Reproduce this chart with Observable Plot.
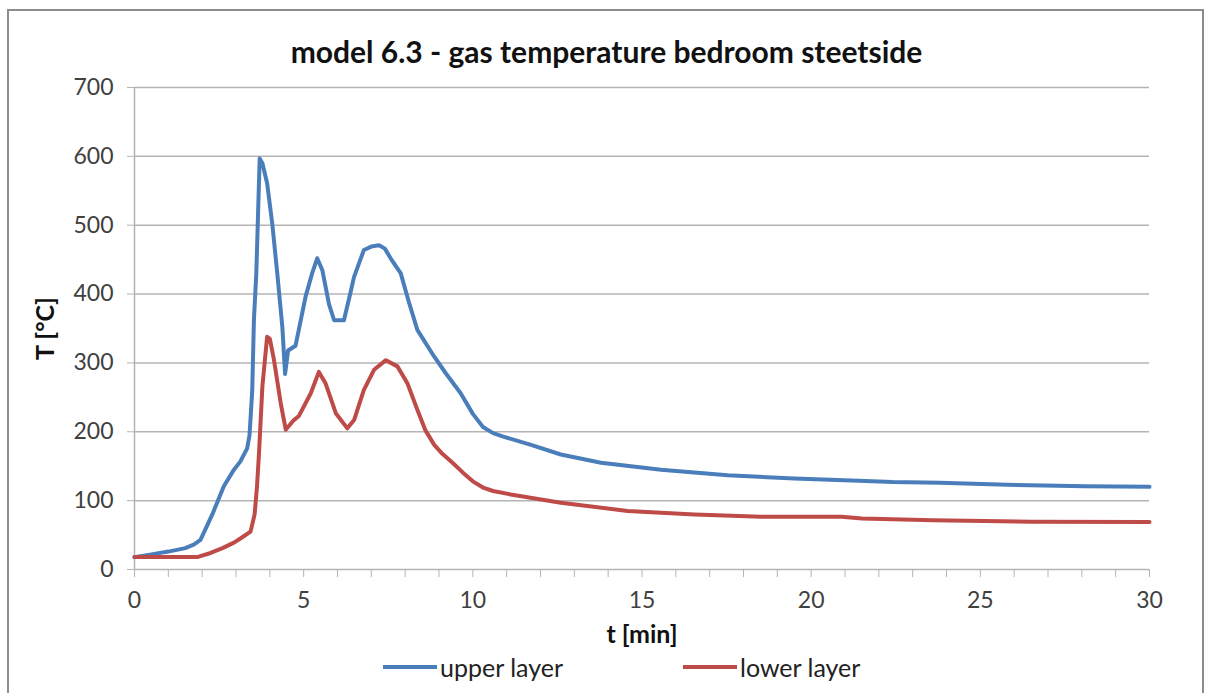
<!DOCTYPE html>
<html>
<head>
<meta charset="utf-8">
<script src="https://cdn.jsdelivr.net/npm/d3@7"></script>
<script src="https://cdn.jsdelivr.net/npm/@observablehq/plot@0.6"></script>
<style>
  html, body { margin: 0; padding: 0; background: #fff; overflow: hidden; }
  #wrap { position: relative; width: 1213px; height: 693px; font-family: Lato, "Open Sans", sans-serif; }
  #frame { position: absolute; left: 7px; top: 9px; width: 1197px; height: 700px; border: 2px solid #8c8c8c; box-sizing: border-box; }
  #title { position: absolute; left: 0; width: 1213px; top: 33px; text-align: center; font-weight: bold; font-size: 30px; color: #111; line-height: 36px; }
  #chart { position: absolute; left: 0; top: 0; }
  .leg { position: absolute; top: 651px; font-size: 25px; line-height: 32px; color: #222; display: flex; align-items: center; }
  .sw { display: inline-block; width: 54px; height: 4px; margin-right: 3px; }
</style>
</head>
<body>
<div id="wrap">
  <div id="frame"></div>
  <div id="chart"></div>
  <div id="title"></div>
  <div id="legend"></div>
</div>
<script>
const title = "model 6.3 - gas temperature bedroom steetside";
const xLabel = "t [min]";
const yLabel = "T [°C]";
const seriesNames = ["upper layer", "lower layer"];
const seriesColors = ["#4a7ebb", "#be4b48"];

const tUpper = [0, 0.5, 1.0, 1.5, 1.75, 1.95, 2.3, 2.64, 2.94, 3.13, 3.33, 3.40, 3.48, 3.53, 3.60, 3.70, 3.78, 3.92, 4.07, 4.22, 4.37, 4.45, 4.54, 4.76, 5.06, 5.25, 5.40, 5.55, 5.75, 5.90, 6.19, 6.35, 6.49, 6.78, 7.0, 7.23, 7.4, 7.57, 7.87, 8.1, 8.36, 8.86, 9.2, 9.64, 10.0, 10.3, 10.6, 10.9, 11.72, 12.6, 13.79, 15.56, 17.53, 19.5, 21.4, 22.4, 23.8, 25.8, 28.1, 30];
const vUpper = [18, 22, 26, 31, 36, 43, 80, 121, 145, 157, 176, 195, 260, 363, 430, 597, 590, 561, 503, 430, 352, 284, 318, 325, 397, 430, 452, 435, 385, 362, 362, 395, 425, 464, 469, 471, 466, 452, 430, 390, 348, 309, 285, 256, 226, 207, 198, 193, 181, 167, 155, 145, 137, 132, 129, 127, 126, 123, 121, 120];

const tLower = [0, 1.0, 1.85, 2.25, 2.6, 2.94, 3.13, 3.43, 3.55, 3.62, 3.68, 3.78, 3.92, 4.0, 4.12, 4.32, 4.47, 4.71, 4.86, 5.21, 5.45, 5.65, 5.95, 6.29, 6.49, 6.78, 7.08, 7.43, 7.77, 8.07, 8.36, 8.6, 8.86, 9.1, 9.4, 9.7, 10.0, 10.3, 10.6, 11.12, 12.6, 14.58, 16.55, 18.52, 20.9, 21.5, 23.6, 26.5, 30];
const vLower = [18, 18, 18, 24, 31, 39, 45, 55, 80, 120, 169, 266, 338, 335, 305, 242, 203, 217, 223, 256, 287, 270, 227, 205, 217, 261, 290, 304, 295, 270, 232, 202, 181, 168, 155, 141, 128, 119, 114, 109, 97, 85, 80, 76.6, 76.5, 74, 71.6, 69.3, 69];

const xTicks = [0, 5, 10, 15, 20, 25, 30];
const xMinorTicks = d3.range(0, 31, 1);
const yTicks = [0, 100, 200, 300, 400, 500, 600, 700];

const upper = tUpper.map((t, i) => ({t, v: vUpper[i]}));
const lower = tLower.map((t, i) => ({t, v: vLower[i]}));

const chart = Plot.plot({
  width: 1213,
  height: 693,
  marginLeft: 134,
  marginRight: 64,
  marginTop: 87,
  marginBottom: 124,
  style: {fontFamily: "Lato, 'Open Sans', sans-serif", fontSize: "23px", color: "#404040", background: "transparent"},
  x: {domain: [0, 30]},
  y: {domain: [0, 700]},
  marks: [
    Plot.gridY(yTicks.filter(d => d > 0), {stroke: "#b4b4b4", strokeOpacity: 1, strokeWidth: 1.5}),
    Plot.ruleY([0], {stroke: "#b4b4b4", strokeWidth: 1.5}),
    Plot.ruleX([0], {stroke: "#b4b4b4", strokeWidth: 1.5}),
    Plot.axisX(xMinorTicks, {tickSize: 8, tickPadding: 14, stroke: "#b4b4b4", tickFormat: d => xTicks.includes(d) ? d : "", label: null}),
    Plot.axisY(yTicks, {tickSize: 7, tickPadding: 14, stroke: "#b4b4b4", label: null}),
    Plot.axisX({ticks: [], label: xLabel, labelAnchor: "center", labelOffset: 73, labelArrow: "none", fontWeight: "bold", fontSize: 25, fill: "#111", tickSize: 0}),
    Plot.axisY({ticks: [], label: yLabel, labelAnchor: "center", labelOffset: 98, labelArrow: "none", fontWeight: "bold", fontSize: 25, fill: "#111", tickSize: 0}),
    Plot.line(upper, {x: "t", y: "v", stroke: seriesColors[0], strokeWidth: 4, strokeLinejoin: "round"}),
    Plot.line(lower, {x: "t", y: "v", stroke: seriesColors[1], strokeWidth: 4, strokeLinejoin: "round"})
  ]
});
document.getElementById("chart").appendChild(chart);
document.getElementById("title").textContent = title;

const legend = document.getElementById("legend");
const legLefts = [383, 683];
seriesNames.forEach((name, i) => {
  const d = document.createElement("div");
  d.className = "leg";
  d.style.left = legLefts[i] + "px";
  const sw = document.createElement("span");
  sw.className = "sw";
  sw.style.background = seriesColors[i];
  d.appendChild(sw);
  d.appendChild(document.createTextNode(name));
  legend.appendChild(d);
});
</script>
</body>
</html>
